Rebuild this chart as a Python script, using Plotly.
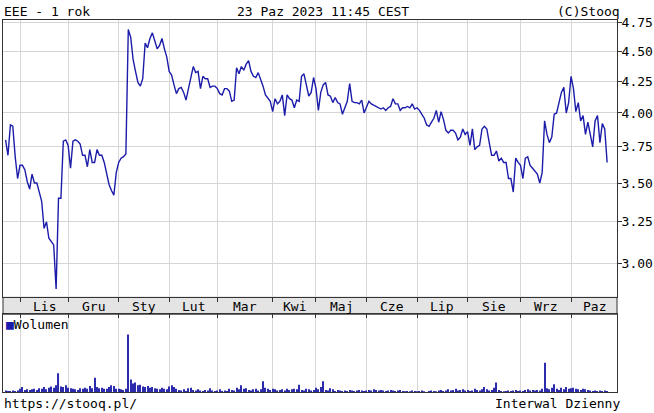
import math
import plotly.graph_objects as go
import pandas as pd

W, H = 654, 413

# GPW trading days for the last year (weekends and exchange holidays removed)
holidays = ["2022-11-01", "2022-11-11", "2022-12-26", "2023-01-06", "2023-04-07",
            "2023-04-10", "2023-05-01", "2023-05-03", "2023-06-08", "2023-08-15"]
days = pd.bdate_range("2022-10-24", "2023-10-23")
days = days[~days.isin(pd.to_datetime(holidays))]

close = [
    3.80, 3.69, 3.91, 3.90, 3.68, 3.53, 3.62, 3.62, 3.59, 3.51,
    3.46, 3.56, 3.50, 3.50, 3.44, 3.38, 3.21, 3.25, 3.15, 3.13,
    3.11, 2.86, 3.40, 3.40, 3.79, 3.80, 3.76, 3.60, 3.79, 3.80,
    3.79, 3.77, 3.69, 3.69, 3.61, 3.73, 3.64, 3.64, 3.73, 3.69,
    3.69, 3.64, 3.57, 3.49, 3.45, 3.42, 3.57, 3.64, 3.67, 3.68,
    3.70, 4.69, 4.62, 4.43, 4.33, 4.24, 4.21, 4.27, 4.57, 4.53,
    4.61, 4.66, 4.59, 4.52, 4.55, 4.61, 4.52, 4.45, 4.33, 4.30,
    4.22, 4.15, 4.19, 4.20, 4.16, 4.10, 4.19, 4.27, 4.37, 4.32,
    4.33, 4.19, 4.29, 4.27, 4.27, 4.20, 4.21, 4.21, 4.19, 4.15,
    4.14, 4.19, 4.19, 4.17, 4.09, 4.10, 4.36, 4.31, 4.37, 4.34,
    4.39, 4.42, 4.33, 4.29, 4.28, 4.32, 4.27, 4.21, 4.14, 4.11,
    4.09, 4.01, 4.11, 4.07, 4.09, 4.14, 3.98, 4.14, 4.11, 4.10,
    4.04, 4.10, 4.09, 4.29, 4.31, 4.22, 4.13, 4.16, 4.28, 4.19,
    4.02, 4.16, 4.22, 4.24, 4.14, 4.13, 4.08, 4.12, 4.08, 4.07,
    3.99, 4.04, 4.09, 4.23, 4.09, 4.08, 4.08, 4.07, 4.10, 4.00,
    4.04, 4.09, 4.07, 4.06, 4.05, 4.04, 4.03, 4.04, 4.02, 4.04,
    4.05, 4.11, 4.07, 4.07, 4.02, 4.04, 4.04, 4.05, 4.04, 4.07,
    4.03, 4.04, 4.02, 3.99, 3.96, 3.91, 3.90, 3.93, 3.96, 4.02,
    3.93, 4.01, 3.95, 3.87, 3.85, 3.87, 3.87, 3.85, 3.80, 3.82,
    3.88, 3.84, 3.86, 3.76, 3.88, 3.73, 3.75, 3.76, 3.88, 3.90,
    3.88, 3.78, 3.69, 3.69, 3.72, 3.65, 3.67, 3.64, 3.64, 3.53,
    3.53, 3.44, 3.67, 3.64, 3.62, 3.53, 3.67, 3.68, 3.62, 3.60,
    3.58, 3.56, 3.50, 3.57, 3.94, 3.84, 3.78, 3.82, 3.99, 4.00,
    4.08, 4.16, 4.20, 4.00, 4.08, 4.29, 4.19, 4.01, 4.08, 3.94,
    3.98, 3.84, 3.93, 3.84, 3.75, 3.94, 3.98, 3.78, 3.92, 3.88,
    3.64,
]

volume = [
    3, 2, 2, 3, 2, 3, 6, 9, 4, 5,
    4, 5, 6, 4, 7, 6, 9, 5, 8, 10,
    8, 12, 33, 10, 9, 12, 8, 7, 6, 5,
    4, 7, 6, 8, 6, 11, 7, 25, 9, 7,
    8, 6, 6, 9, 12, 11, 6, 6, 5, 4,
    6, 100, 22, 15, 17, 12, 13, 10, 9, 11,
    8, 9, 7, 6, 5, 8, 6, 5, 10, 12,
    9, 6, 4, 3, 5, 2, 7, 8, 4, 3,
    5, 3, 2, 4, 3, 7, 3, 2, 3, 5,
    2, 3, 2, 6, 4, 3, 8, 5, 12, 6,
    7, 4, 3, 5, 6, 3, 5, 19, 8, 6,
    4, 6, 5, 3, 4, 5, 3, 6, 4, 5,
    6, 5, 13, 4, 3, 6, 5, 3, 4, 8,
    5, 9, 19, 4, 3, 7, 5, 2, 4, 3,
    2, 3, 2, 4, 3, 2, 3, 4, 3, 2,
    3, 4, 3, 5, 4, 3, 4, 3, 2, 3,
    4, 3, 2, 3, 4, 2, 1, 2, 1, 3,
    2, 1, 2, 3, 1, 0, 2, 3, 2, 1,
    3, 4, 2, 3, 5, 3, 4, 6, 3, 4,
    5, 3, 4, 2, 3, 6, 4, 3, 5, 9,
    5, 3, 4, 8, 17, 4, 2, 1, 2, 3,
    2, 3, 4, 2, 3, 2, 4, 5, 3, 4,
    3, 4, 3, 6, 51, 7, 5, 8, 14, 6,
    4, 8, 5, 9, 6, 7, 8, 6, 5, 4,
    6, 5, 4, 3, 2, 3, 2, 3, 2, 3,
    2,
]

month_names = ["Lis", "Gru", "Sty", "Lut", "Mar", "Kwi", "Maj", "Cze", "Lip", "Sie", "Wrz", "Paz"]
price_ticks = [3.00, 3.25, 3.50, 3.75, 4.00, 4.25, 4.50, 4.75]

idx = list(range(len(close)))
month_start = [i for i in range(1, len(days)) if days[i].month != days[i - 1].month]
x_range = [-1.07, 254.1]
label_pos = [(a + b) / 2 for a, b in zip(month_start, month_start[1:] + [x_range[1]])]


def px(p):
    return p / W


def py(p):
    return 1 - p / H


FONT = "DejaVu Sans Mono"
LINE = "#333333"
GRID = "#d6d6d6"

fig = go.Figure()
fig.add_trace(go.Scatter(x=idx, y=close, mode="lines", line=dict(color="#1c1caa", width=1.4),
                         xaxis="x", yaxis="y", hoverinfo="skip"))
fig.add_trace(go.Bar(x=idx, y=volume, width=0.45, marker=dict(color="#2b2bab", line_width=0),
                     xaxis="x2", yaxis="y2", hoverinfo="skip"))

xdom = [px(3), px(617)]
fig.update_layout(
    width=W, height=H, margin=dict(l=0, r=0, t=0, b=0),
    paper_bgcolor="white", plot_bgcolor="white", showlegend=False,
    font=dict(family=FONT, size=13, color="black"),
    xaxis=dict(domain=xdom, anchor="y", range=x_range, tickvals=month_start, showticklabels=False,
               ticks="outside", ticklen=4, tickcolor=LINE, showgrid=True, gridcolor=GRID,
               showline=True, linecolor=LINE, mirror=True, zeroline=False),
    xaxis3=dict(overlaying="x", anchor="y", side="top", range=x_range, tickvals=month_start,
                showticklabels=False, ticks="inside", ticklen=4, tickcolor=LINE,
                showgrid=False, showline=False, zeroline=False),
    yaxis=dict(domain=[py(296), py(15.5)], anchor="x", side="right", type="log",
               range=[math.log10(2.814), math.log10(4.773)],
               tickvals=price_ticks, ticktext=[f"{v:.2f}" for v in price_ticks],
               tickfont=dict(size=13), ticklabelstandoff=-3,
               ticks="outside", ticklen=4, tickcolor=LINE, showgrid=True, gridcolor=GRID,
               showline=True, linecolor=LINE, mirror=True, zeroline=False),
    xaxis2=dict(domain=xdom, anchor="y2", side="top", range=x_range, tickvals=month_start,
                showticklabels=False, ticks="inside", ticklen=4, tickcolor=LINE,
                showgrid=True, gridcolor=GRID, showline=True, linecolor=LINE, mirror=True,
                zeroline=False),
    yaxis2=dict(domain=[py(392), py(313)], anchor="x2", range=[0, 135], showticklabels=False,
                ticks="", showgrid=False, showline=True, linecolor=LINE, mirror=True,
                zeroline=False),
)

# grey band carrying the month names
fig.add_shape(type="rect", xref="paper", yref="paper", x0=xdom[0], x1=xdom[1],
              y0=py(313), y1=py(296), fillcolor="#e4e4e4", line=dict(color=LINE, width=1),
              layer="below")

for name, pos in zip(month_names, label_pos):
    fig.add_annotation(x=pos, xref="x", y=py(305), yref="paper", text=name,
                       showarrow=False, yanchor="middle")

texts = [
    ("EEE - 1 rok", 2, 7, "left"),
    ("23 Paz 2023 11:45 CEST", 323, 7, "center"),
    ("(C)Stooq", 622, 7, "right"),
    ("https://stooq.pl/", 2, 403, "left"),
    ("Interwal Dzienny", 622, 403, "right"),
    ('<span style="color:#1c1caa">■</span>Wolumen', 4, 323, "left"),
]
for text, x, y, anchor in texts:
    fig.add_annotation(x=px(x), xref="paper", y=py(y), yref="paper", text=text,
                       showarrow=False, xanchor=anchor, yanchor="middle")

fig.write_html("out.html", config={"displayModeBar": False},
               post_script="document.body.style.margin='0px';document.body.style.overflow='hidden';")
